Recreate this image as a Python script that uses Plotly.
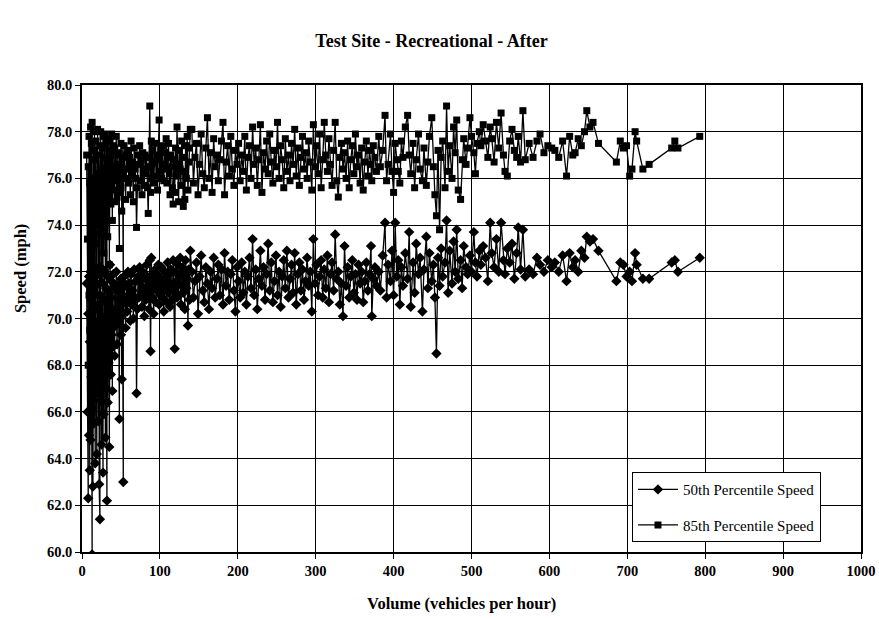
import plotly.graph_objects as go

# ---- data (volume in vehicles/hour, speeds in mph) ----
vol_a = [6, 7, 8, 8, 9, 9, 10, 10, 11, 11,
         12, 12, 13, 13, 13, 14, 14, 15, 15, 16,
         16, 17, 17, 18, 18, 19, 19, 20, 20, 21,
         21, 22, 22, 23, 23, 24, 24, 25, 25, 26,
         26, 27, 27, 28, 28, 29, 29, 30, 30, 31,
         31, 32, 32, 33, 33, 34, 34, 35, 35, 36,
         36, 37, 37, 38, 38, 39, 39, 40, 40, 41,
         42, 42, 43, 44, 44, 45, 46, 46, 47, 48,
         48, 49, 50, 50, 51, 51, 52, 53, 53, 54]
p50_a = [71.5, 66.0, 62.3, 70.2, 65.0, 71.8, 63.5, 69.0, 72.0, 64.8,
         67.5, 70.8, 59.9, 71.2, 66.2, 69.5, 62.8, 71.6, 65.5, 68.8,
         72.1, 63.8, 70.4, 66.8, 71.4, 64.2, 69.8, 67.2, 71.9, 65.6,
         70.6, 68.3, 62.9, 61.4, 71.0, 66.5, 72.2, 64.6, 69.2, 70.9,
         67.8, 63.4, 71.5, 65.9, 70.0, 68.6, 72.0, 64.9, 70.7, 67.0,
         71.3, 62.2, 69.4, 71.8, 66.4, 70.2, 68.1, 71.1, 64.5, 70.5,
         72.3, 67.6, 70.9, 69.3, 71.6, 66.9, 70.4, 71.9, 68.8, 70.1,
         68.4, 71.4, 69.7, 72.0, 70.3, 68.9, 71.2, 69.9, 70.8, 65.7,
         71.5, 70.0, 69.3, 71.7, 67.4, 70.6, 71.3, 63.0, 70.2, 71.8]
p85_a = [77.0, 73.4, 68.0, 76.5, 71.0, 77.8, 69.5, 75.8, 78.2, 70.2,
         74.0, 77.5, 66.0, 78.4, 72.5, 76.0, 69.0, 77.2, 71.8, 75.5,
         78.0, 70.5, 76.8, 73.2, 77.6, 71.0, 76.2, 74.5, 78.1, 72.2,
         77.0, 75.2, 69.8, 68.5, 77.4, 73.6, 78.0, 71.5, 76.0, 77.3,
         74.8, 70.8, 77.8, 72.8, 76.4, 75.0, 77.9, 72.0, 76.9, 74.2,
         77.5, 70.0, 76.1, 77.7, 73.5, 76.6, 75.3, 77.2, 72.3, 76.8,
         77.6, 74.9, 77.0, 76.0, 77.9, 74.2, 76.5, 77.4, 75.5, 76.2,
         75.0, 77.3, 76.4, 77.8, 75.9, 75.2, 77.0, 76.6, 75.4, 73.0,
         77.1, 76.0, 75.6, 77.5, 74.6, 76.2, 76.9, 71.5, 76.3, 77.4]

vol_b = [55, 56, 57, 58, 59, 60, 61, 62, 63, 64,
         65, 66, 67, 68, 69, 70, 71, 72, 73, 74,
         75, 76, 77, 78, 79, 80, 81, 82, 83, 84,
         85, 86, 87, 88, 89, 90, 91, 92, 93, 94,
         95, 96, 97, 98, 99, 100, 101, 102, 103, 104,
         105, 106, 107, 108, 109, 110, 111, 112, 113, 114,
         115, 116, 117, 118, 119, 120, 121, 122, 123, 124,
         125, 126, 127, 128, 129, 130, 131, 132, 133, 134,
         135, 136, 137, 138, 139]
p50_b = [70.9, 69.6, 71.4, 70.3, 72.0, 70.7, 71.5, 69.9, 71.9, 70.6,
         71.2, 70.0, 72.1, 70.8, 71.6, 66.8, 70.4, 71.8, 70.9, 72.2,
         71.0, 71.7, 70.5, 72.0, 71.3, 70.1, 71.9, 70.8, 72.3, 71.1,
         71.6, 70.4, 72.5, 68.6, 72.6, 70.9, 71.8, 70.2, 71.5, 72.1,
         70.7, 71.9, 71.2, 72.3, 70.6, 71.7, 71.0, 72.2, 70.9, 71.5,
         70.3, 72.0, 71.3, 71.8, 70.7, 72.4, 71.1, 71.9, 70.5, 72.1,
         71.4, 70.8, 72.5, 71.2, 68.7, 72.0, 71.6, 70.9, 72.3, 71.0,
         71.8, 72.6, 70.6, 71.4, 72.2, 71.1, 71.9, 70.4, 72.5, 71.3,
         71.7, 69.7, 72.1, 70.8, 72.9]
p85_b = [76.0, 75.1, 77.0, 76.4, 77.2, 75.8, 76.9, 75.3, 77.6, 76.1,
         76.7, 75.0, 77.3, 76.4, 76.0, 73.9, 75.6, 77.0, 76.6, 77.4,
         75.9, 76.8, 75.3, 77.1, 76.4, 75.7, 77.0, 76.2, 76.9, 75.6,
         74.5, 76.5, 79.1, 75.4, 77.6, 76.0, 77.2, 75.8, 76.7, 77.5,
         76.1, 77.0, 75.5, 76.8, 78.5, 76.3, 77.2, 76.0, 77.4, 76.6,
         75.9, 77.1, 76.4, 77.7, 75.8, 76.9, 77.5, 76.2, 75.3, 77.0,
         76.5, 75.6, 74.9, 76.8, 75.4, 77.3, 76.1, 78.2, 76.6, 75.0,
         77.2, 76.4, 75.7, 77.6, 76.9, 74.8, 76.3, 75.1, 77.4, 76.0,
         77.8, 75.5, 76.7, 77.3, 78.1]

vol_c = [141, 143, 145, 147, 149, 151, 153, 155, 157, 159,
         161, 163, 165, 167, 169, 171, 173, 175, 177, 179,
         181, 183, 185, 187, 189, 191, 193, 195, 197, 199,
         201, 203, 205, 207, 209, 211, 213, 215, 217, 219,
         221, 223, 225, 227, 229, 231, 233, 235, 237, 239,
         241, 243, 245, 247, 249, 251, 253, 255, 257, 259,
         261, 263, 265, 267, 269, 271, 273, 275, 277, 279,
         281, 283, 285, 287, 289, 291, 293, 295, 297, 299,
         301, 303, 305, 307, 309, 311, 313, 315, 317, 319,
         321, 323, 325, 327, 329, 331, 333, 335, 337, 339,
         341, 343, 345, 347, 349, 351, 353, 355, 357, 359,
         361, 363, 365, 367, 369, 371, 372, 374, 376, 378]
p50_c = [72.0, 70.9, 71.6, 72.4, 70.2, 71.8, 72.7, 71.2, 70.7, 72.2,
         71.5, 70.4, 72.0, 71.3, 72.6, 70.9, 71.7, 72.3, 71.0, 72.1,
         70.6, 72.8, 71.4, 72.0, 70.8, 71.9, 72.5, 71.2, 70.3, 72.2,
         71.6, 70.9, 72.4, 71.1, 72.0, 70.6, 71.8, 72.6, 71.3, 73.4,
         71.0, 72.1, 70.4, 71.7, 72.9, 71.4, 72.2, 70.8, 71.9, 73.2,
         71.2, 72.4, 70.7, 71.6, 72.7, 71.0, 72.0, 70.5, 71.8, 72.5,
         71.3, 72.9, 70.9, 71.7, 72.3, 71.1, 72.8, 70.6, 71.9, 72.4,
         71.2, 72.1, 70.8, 71.6, 72.6, 71.4, 72.0, 70.3, 73.4, 71.5,
         72.3, 71.0, 71.8, 72.5, 70.9, 72.1, 71.3, 72.7, 70.7, 71.9,
         72.4, 71.2, 73.6, 71.7, 72.0, 70.6, 71.5, 70.1, 73.1, 71.4,
         72.2, 70.9, 71.8, 72.5, 71.1, 71.9, 70.8, 72.3, 71.5, 72.0,
         70.7, 71.6, 72.4, 71.2, 71.9, 73.1, 70.1, 71.7, 72.2, 71.4]
p85_c = [78.1, 75.8, 76.9, 77.5, 75.3, 76.6, 77.9, 76.2, 75.6, 77.3,
         78.6, 76.0, 77.1, 75.4, 77.7, 76.5, 77.0, 75.9, 76.8, 77.6,
         78.4, 75.3, 76.7, 77.4, 76.1, 77.8, 76.4, 75.7, 77.2, 76.6,
         77.5, 75.9, 77.0, 76.3, 77.8, 75.5, 76.9, 77.4, 76.0, 78.2,
         76.6, 77.3, 75.7, 76.8, 78.3, 75.4, 77.1, 76.4, 77.6, 76.2,
         77.9, 76.7, 75.8, 77.2, 76.5, 78.4, 76.0, 77.4, 76.8, 75.6,
         77.7, 76.3, 77.0, 75.9, 77.5, 76.6, 78.1, 76.1, 77.3, 75.7,
         76.9, 77.8, 76.4, 77.1, 76.0, 77.6, 76.7, 75.5, 78.3, 76.5,
         77.4, 76.2, 77.9, 75.6, 76.8, 78.4, 77.0, 76.3, 77.7, 76.6,
         75.7, 77.2, 78.4, 75.9, 75.2, 76.9, 77.5, 76.4, 77.1, 76.0,
         77.6, 75.6, 76.8, 77.4, 76.2, 77.9, 76.5, 77.0, 75.8, 77.3,
         75.5, 76.7, 77.6, 76.1, 77.2, 76.6, 75.9, 77.4, 76.9, 76.3]

vol_d = [381, 383, 386, 389, 391, 393, 396, 398, 400, 402,
         404, 406, 408, 410, 412, 415, 418, 420, 422, 425,
         427, 429, 432, 434, 437, 439, 442, 444, 446, 449,
         451, 453, 455, 457, 459, 461, 463, 466, 468, 470,
         472, 475, 477, 479, 481, 483, 486, 488, 490, 493,
         495, 498, 500, 503, 505, 507, 510, 512, 515, 518,
         521, 524, 526, 529, 532, 535, 538, 541, 543, 546,
         549, 552, 555, 558, 560, 563, 566, 569]
p50_d = [72.0, 71.2, 72.7, 74.1, 70.9, 72.3, 71.6, 72.9, 71.0, 74.1,
         71.8, 72.5, 70.6, 72.2, 71.4, 72.8, 71.7, 73.7, 70.5, 72.4,
         71.1, 73.2, 71.9, 72.6, 70.3, 72.1, 73.5, 71.3, 72.8, 71.6,
         72.3, 70.9, 68.5, 72.6, 71.4, 73.0, 71.8, 72.4, 74.2, 71.1,
         72.9, 71.5, 73.3, 72.0, 73.8, 71.7, 72.5, 71.3, 73.1, 72.2,
         71.9, 72.7, 72.0, 73.7, 72.4, 71.8, 72.9, 72.3, 73.1, 72.6,
         71.6, 74.1, 72.8, 72.2, 73.4, 72.0, 74.1, 72.5, 71.9, 73.0,
         72.4, 73.2, 71.7, 72.8, 73.9, 72.1, 73.8, 71.8]
p85_d = [77.8, 76.5, 77.2, 78.7, 75.9, 76.6, 77.9, 76.3, 75.4, 77.5,
         76.8, 76.3, 75.8, 77.6, 76.9, 78.2, 78.7, 77.0, 76.2, 77.5,
         75.6, 76.8, 77.9, 76.4, 75.9, 77.3, 75.7, 76.7, 77.8, 78.6,
         76.5, 75.3, 74.4, 77.2, 73.8, 76.9, 77.6, 75.6, 79.1, 76.3,
         77.4, 76.0, 78.2, 77.1, 78.5, 75.5, 75.1, 76.8, 77.7, 76.6,
         77.3, 78.6, 77.8, 77.1, 76.2, 77.5, 78.0, 77.4, 78.3, 77.6,
         76.9, 78.2, 77.7, 76.7, 78.4, 77.3, 78.8, 77.0, 76.3, 76.1,
         77.6, 78.1, 77.2, 76.9, 77.8, 76.7, 78.9, 76.8]

vol_e = [574, 579, 584, 588, 593, 598, 603, 607, 612, 617,
         622, 626, 630, 633, 637, 641, 645, 648, 652, 656,
         663, 686, 691, 695, 699, 703, 706, 710, 712, 720,
         728, 757, 761, 765, 793]
p50_e = [72.1, 71.9, 72.6, 72.3, 72.0, 72.5, 72.2, 72.4, 72.0, 72.7,
         71.6, 72.8, 72.2, 72.5, 72.0, 72.9, 72.6, 73.5, 73.3, 73.4,
         72.9, 71.6, 72.4, 72.3, 71.8, 72.0, 71.6, 72.8, 72.3, 71.7,
         71.7, 72.4, 72.5, 72.0, 72.6]
p85_e = [77.5, 76.9, 77.6, 77.9, 77.1, 77.4, 77.3, 77.2, 76.9, 77.6,
         76.1, 77.8, 77.0, 77.1, 77.7, 77.4, 78.0, 78.9, 78.2, 78.4,
         77.5, 76.7, 77.6, 77.3, 77.4, 76.1, 76.4, 78.0, 77.6, 76.4,
         76.6, 77.3, 77.6, 77.3, 77.8]

for v, a, b in [(vol_a, p50_a, p85_a), (vol_b, p50_b, p85_b), (vol_c, p50_c, p85_c),
                (vol_d, p50_d, p85_d), (vol_e, p50_e, p85_e)]:
    assert len(v) == len(a) == len(b), (len(v), len(a), len(b))

volume = vol_a + vol_b + vol_c + vol_d + vol_e
speed50 = p50_a + p50_b + p50_c + p50_d + p50_e
speed85 = p85_a + p85_b + p85_c + p85_d + p85_e

SERIF = "Liberation Serif"

fig = go.Figure()
fig.add_trace(go.Scatter(
    x=volume, y=speed50, mode="lines+markers", name="50th Percentile Speed",
    legendgroup="a",
    line=dict(color="black", width=1.3),
    marker=dict(symbol="diamond", size=8, color="black"),
))
fig.add_trace(go.Scatter(
    x=volume, y=speed85, mode="lines+markers", name="85th Percentile Speed",
    legendgroup="b",
    line=dict(color="black", width=1.3),
    marker=dict(symbol="square", size=7, color="black"),
))

axis_common = dict(
    showgrid=True, gridcolor="black", gridwidth=1.2,
    showline=True, linecolor="black", linewidth=1.5, mirror=True,
    ticks="outside", tickcolor="black", ticklen=5,
    zeroline=False, automargin=False,
    tickfont=dict(family=SERIF, size=14.5, color="black", weight="bold"),
)

fig.update_layout(
    width=879, height=619,
    margin=dict(l=82, r=18, t=85, b=67),
    paper_bgcolor="white", plot_bgcolor="white",
    font=dict(family=SERIF, color="black"),
    title=dict(text="<b>Test Site - Recreational - After</b>",
               font=dict(family=SERIF, size=18, color="black"),
               x=0.491, xanchor="center", y=0.935, yanchor="middle"),
    xaxis=dict(range=[0, 1000], dtick=100, tickformat="d", **axis_common),
    yaxis=dict(range=[60, 80], dtick=2, tickformat=".1f", **axis_common),
    showlegend=True,
    legend=dict(x=0.706, y=0.171, xanchor="left", yanchor="top",
                bordercolor="black", borderwidth=1, bgcolor="white",
                font=dict(family=SERIF, size=15, color="black"),
                traceorder="grouped", tracegroupgap=13,
                itemwidth=40),
    annotations=[
        dict(text="<b>Volume (vehicles per hour)</b>", xref="paper", yref="paper",
             x=0.487, y=-0.111, xanchor="center", yanchor="middle", showarrow=False,
             font=dict(family=SERIF, size=16.5, color="black")),
        dict(text="<b>Speed (mph)</b>", xref="paper", yref="paper",
             x=-0.0796, y=0.608, xanchor="center", yanchor="middle", showarrow=False,
             textangle=-90, font=dict(family=SERIF, size=16.5, color="black")),
    ],
)

fig.write_html("out.html")
